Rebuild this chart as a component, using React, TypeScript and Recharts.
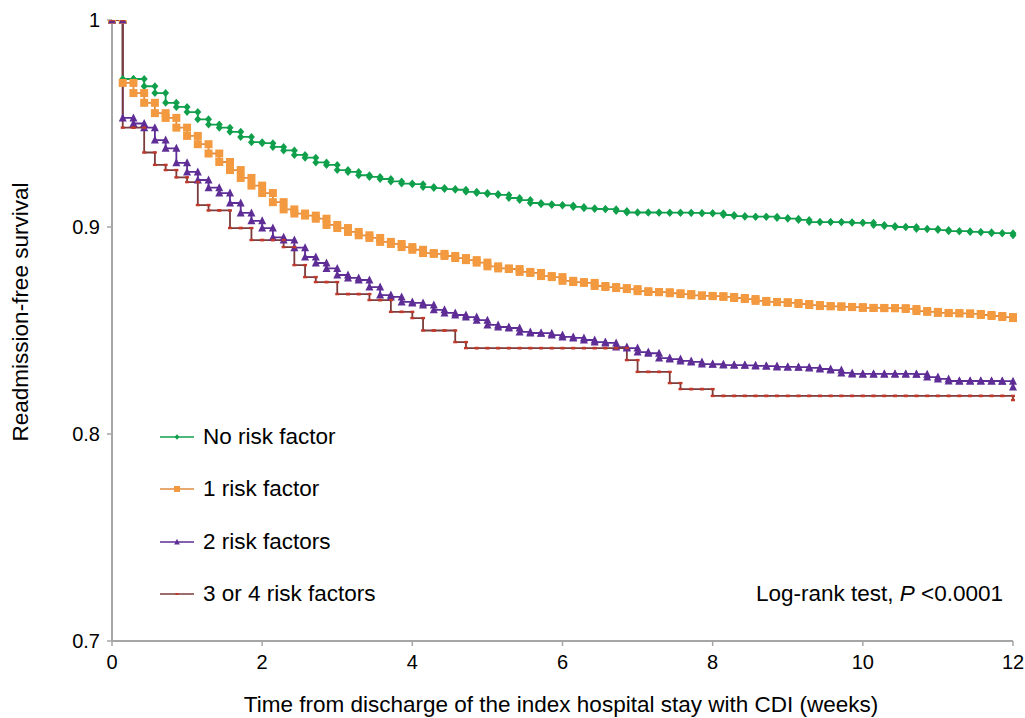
import React from "react";
import { LineChart, Line, XAxis, YAxis } from "recharts";

// time grid in days (0..84), plotted in weeks
const days = Array.from({ length: 85 }, (_, i) => i);

const noRiskFactor = [
  1, 0.9715, 0.9715, 0.968, 0.9647, 0.96, 0.958, 0.9555, 0.952, 0.9495,
  0.948, 0.946, 0.9435, 0.941, 0.9405, 0.9387, 0.937, 0.9348, 0.9335, 0.9312,
  0.93, 0.9275, 0.9266, 0.925, 0.9242, 0.9232, 0.922, 0.921, 0.9207, 0.9193,
  0.9188, 0.9183, 0.918, 0.917, 0.9164, 0.916, 0.9155, 0.914, 0.913, 0.9116,
  0.911, 0.9106, 0.9104, 0.9097, 0.909, 0.9087, 0.9086, 0.9077, 0.907, 0.907,
  0.907, 0.9069, 0.9069, 0.9069, 0.9068, 0.9067, 0.9066, 0.9058, 0.9053, 0.905,
  0.905, 0.905, 0.9043, 0.904, 0.9034, 0.9024, 0.9024, 0.9024, 0.9023, 0.902,
  0.902, 0.901, 0.9005, 0.9, 0.9, 0.899, 0.899, 0.8985, 0.898, 0.898,
  0.8976, 0.8975, 0.897, 0.897, 0.896,
];

const oneRiskFactor = [
  1, 0.9696, 0.9647, 0.96, 0.955, 0.9527, 0.948, 0.944, 0.94, 0.9355,
  0.9314, 0.9275, 0.9237, 0.92, 0.9164, 0.912, 0.9085, 0.9065, 0.9055, 0.904,
  0.901, 0.8995, 0.8976, 0.896, 0.8947, 0.8928, 0.8918, 0.8903, 0.889, 0.8874,
  0.887, 0.886, 0.885, 0.884, 0.8828, 0.881, 0.88, 0.8797, 0.8783, 0.8778,
  0.8763, 0.8758, 0.874, 0.8734, 0.873, 0.8715, 0.871, 0.8705, 0.87, 0.869,
  0.8686, 0.8685, 0.868, 0.8676, 0.867, 0.8667, 0.8666, 0.8662, 0.8657, 0.8652,
  0.8643, 0.8638, 0.8637, 0.8633, 0.8628, 0.8623, 0.8618, 0.8617, 0.8614, 0.8613,
  0.8609, 0.8609, 0.8608, 0.8608, 0.8604, 0.8594, 0.859, 0.8585, 0.8584, 0.8583,
  0.858, 0.8575, 0.857, 0.8565, 0.856,
];

const twoRiskFactors = [
  1, 0.9527, 0.95, 0.948, 0.942, 0.938, 0.931, 0.9266, 0.9227, 0.919,
  0.9164, 0.9116, 0.9068, 0.903, 0.8995, 0.895, 0.8937, 0.89, 0.8855, 0.8826,
  0.88, 0.8768, 0.8754, 0.8744, 0.871, 0.8671, 0.8662, 0.8638, 0.8633, 0.8623,
  0.86, 0.8585, 0.8575, 0.8565, 0.855, 0.8527, 0.8517, 0.8512, 0.8493, 0.8488,
  0.8487, 0.8478, 0.8469, 0.8464, 0.8454, 0.8444, 0.844, 0.842, 0.8415, 0.8396,
  0.839, 0.8367, 0.8362, 0.8353, 0.8348, 0.8338, 0.8337, 0.8333, 0.8333, 0.8332,
  0.8329, 0.8328, 0.8324, 0.8324, 0.8323, 0.8319, 0.8314, 0.8309, 0.8295, 0.829,
  0.829, 0.829, 0.829, 0.829, 0.829, 0.8289, 0.8275, 0.8266, 0.8256, 0.8256,
  0.8256, 0.8256, 0.8256, 0.8255, 0.8227,
];

const threeOrFourRiskFactors = [
  1, 0.948, 0.948, 0.936, 0.93, 0.9275, 0.924, 0.9217, 0.9106, 0.908,
  0.908, 0.8995, 0.8995, 0.8937, 0.8937, 0.8937, 0.8903, 0.8816, 0.8758, 0.8734,
  0.8734, 0.8676, 0.8676, 0.8676, 0.8647, 0.8647, 0.859, 0.859, 0.856, 0.85,
  0.85, 0.85, 0.8444, 0.8415, 0.8415, 0.8415, 0.8415, 0.8415, 0.8415, 0.8415,
  0.8415, 0.8415, 0.8415, 0.8415, 0.8415, 0.8415, 0.8415, 0.8415, 0.8357, 0.83,
  0.83, 0.83, 0.8246, 0.8217, 0.8217, 0.8217, 0.8184, 0.8184, 0.8184, 0.8184,
  0.8184, 0.8184, 0.8184, 0.8184, 0.8184, 0.8184, 0.8184, 0.8184, 0.8184, 0.8184,
  0.8184, 0.8184, 0.8184, 0.8184, 0.8184, 0.8184, 0.8184, 0.8184, 0.8184, 0.8184,
  0.8184, 0.8184, 0.8184, 0.8184, 0.8164,
];

const xTicks = [0, 2, 4, 6, 8, 10, 12];
const yTicks = [0.7, 0.8, 0.9, 1];

const legendNames = ["No risk factor", "1 risk factor", "2 risk factors", "3 or 4 risk factors"];

// Kaplan-Meier style: every day gets a point before and after its drop,
// so the markers sit at both ends of each vertical step
const data: any[] = [];
days.forEach((d, i) => {
  if (i > 0) {
    data.push({
      week: d / 7,
      r0: noRiskFactor[i - 1],
      r1: oneRiskFactor[i - 1],
      r2: twoRiskFactors[i - 1],
      r3: threeOrFourRiskFactors[i - 1],
    });
  }
  data.push({
    week: d / 7,
    r0: noRiskFactor[i],
    r1: oneRiskFactor[i],
    r2: twoRiskFactors[i],
    r3: threeOrFourRiskFactors[i],
  });
});

const FONT = "'Liberation Sans', Arial, sans-serif";
const AXIS = "#a6a6a6";

const GREEN = "#10a04c";
const ORANGE = "#f39a40";
const ORANGE_LINE = "#e08c42";
const PURPLE = "#5e2d96";
const BROWN = "#7a3c3c";
const BROWN_DOT = "#c0392b";

// marker shapes
const diamond = (cx: number, cy: number, fill: string, key: string | number, s = 1) => (
  <path
    key={key}
    d={`M${cx},${cy - 4 * s}L${cx + 3.5 * s},${cy}L${cx},${cy + 4 * s}L${cx - 3.5 * s},${cy}Z`}
    fill={fill}
  />
);
const square = (cx: number, cy: number, fill: string, key: string | number, s = 1) => (
  <rect key={key} x={cx - 4 * s} y={cy - 4 * s} width={8 * s} height={8 * s} fill={fill} />
);
const triangle = (cx: number, cy: number, fill: string, key: string | number, s = 1) => (
  <path
    key={key}
    d={`M${cx},${cy - 4.5 * s}L${cx + 4 * s},${cy + 3.5 * s}L${cx - 4 * s},${cy + 3.5 * s}Z`}
    fill={fill}
  />
);
const dash = (cx: number, cy: number, fill: string, key: string | number, s = 1) => (
  <rect key={key} x={cx - 2 * s} y={cy - 1.2 * s} width={4 * s} height={2.4 * s} fill={fill} />
);

const makeDot =
  (shape: typeof diamond, fill: string, name: string) =>
  (p: any) => {
    if (p.cx == null || p.cy == null) return <g key={`${name}-${p.index}`} />;
    return shape(p.cx, p.cy, fill, `${name}-${p.index}`);
  };

const legendMarks = [
  { line: GREEN, mark: (cx: number, cy: number) => diamond(cx, cy, GREEN, "l0", 0.7) },
  { line: ORANGE_LINE, mark: (cx: number, cy: number) => square(cx, cy, ORANGE, "l1", 0.75) },
  { line: PURPLE, mark: (cx: number, cy: number) => triangle(cx, cy, PURPLE, "l2", 0.7) },
  { line: BROWN, mark: (cx: number, cy: number) => dash(cx, cy, BROWN_DOT, "l3", 0.8) },
];
const legendY = [437, 489, 542, 594];

export default function App() {
  return (
    <div
      style={{
        position: "absolute",
        left: 0,
        top: 0,
        width: 1025,
        height: 718,
        background: "#fff",
        fontFamily: FONT,
        color: "#000",
      }}
    >
      <LineChart
        width={1025}
        height={718}
        data={data}
        margin={{ top: 20, right: 12, left: 52, bottom: 47 }}
      >
        <XAxis
          dataKey="week"
          type="number"
          domain={[0, 12]}
          ticks={xTicks}
          tickFormatter={(v) => String(v)}
          axisLine={{ stroke: AXIS, strokeWidth: 2 }}
          tickLine={{ stroke: AXIS, strokeWidth: 1.5 }}
          tickSize={5}
          tickMargin={9}
          height={30}
          tick={{ fontSize: 20, fill: "#000", fontFamily: FONT }}
        />
        <YAxis
          type="number"
          domain={[0.7, 1]}
          ticks={yTicks}
          allowDataOverflow
          tickFormatter={(v) => String(v)}
          axisLine={{ stroke: AXIS, strokeWidth: 2 }}
          tickLine={{ stroke: AXIS, strokeWidth: 1.5 }}
          tickSize={5}
          tickMargin={7}
          width={60}
          tick={{ fontSize: 20, fill: "#000", fontFamily: FONT }}
        />
        <Line
          dataKey="r0"
          type="linear"
          stroke={GREEN}
          strokeWidth={1.8}
          dot={makeDot(diamond, GREEN, "g")}
          activeDot={false}
          isAnimationActive={false}
        />
        <Line
          dataKey="r1"
          type="linear"
          stroke={ORANGE_LINE}
          strokeWidth={1.8}
          dot={makeDot(square, ORANGE, "o")}
          activeDot={false}
          isAnimationActive={false}
        />
        <Line
          dataKey="r2"
          type="linear"
          stroke={PURPLE}
          strokeWidth={1.8}
          dot={makeDot(triangle, PURPLE, "p")}
          activeDot={false}
          isAnimationActive={false}
        />
        <Line
          dataKey="r3"
          type="linear"
          stroke={BROWN}
          strokeWidth={1.8}
          dot={makeDot(dash, BROWN_DOT, "b")}
          activeDot={false}
          isAnimationActive={false}
        />
      </LineChart>

      {/* legend inside the plot */}
      {legendNames.map((name, i) => (
        <div
          key={name}
          style={{
            position: "absolute",
            left: 158,
            top: legendY[i] - 15,
            height: 30,
            display: "flex",
            alignItems: "center",
            fontSize: 22.5,
            whiteSpace: "nowrap",
          }}
        >
          <svg width={40} height={12} style={{ marginRight: 5 }}>
            <line x1={2} y1={6} x2={36} y2={6} stroke={legendMarks[i].line} strokeWidth={1.5} />
            {legendMarks[i].mark(19, 6)}
          </svg>
          <span>{name}</span>
        </div>
      ))}

      <div
        style={{
          position: "absolute",
          right: 22,
          top: 594 - 15,
          height: 30,
          lineHeight: "30px",
          fontSize: 22.5,
          whiteSpace: "nowrap",
        }}
      >
        Log-rank test, <i>P</i> &lt;0.0001
      </div>

      {/* axis titles */}
      <div
        style={{
          position: "absolute",
          left: 0,
          width: 1122,
          top: 690,
          height: 30,
          lineHeight: "30px",
          textAlign: "center",
          fontSize: 22.5,
          whiteSpace: "nowrap",
        }}
      >
        Time from discharge of the index hospital stay with CDI (weeks)
      </div>
      <div
        style={{
          position: "absolute",
          left: 21,
          top: 312,
          transform: "translate(-50%, -50%) rotate(-90deg)",
          fontSize: 22.5,
          whiteSpace: "nowrap",
        }}
      >
        Readmission-free survival
      </div>
    </div>
  );
}
